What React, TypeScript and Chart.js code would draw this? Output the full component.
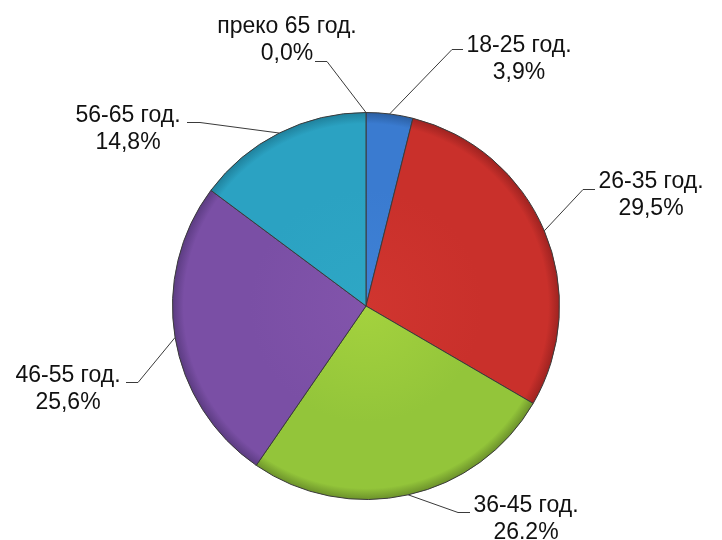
import React, { useEffect, useRef } from "react";
import { Chart, registerables } from "chart.js";

Chart.register(...registerables);

// ---- data ----
const categories = ["18-25 год.", "26-35 год.", "36-45 год.", "46-55 год.", "56-65 год.", "преко 65 год."];
const shares = [3.9, 29.5, 26.2, 25.6, 14.8, 0.0];
const shareLabels = ["3,9%", "29,5%", "26.2%", "25,6%", "14,8%", "0,0%"];

// ---- styles ----
const lightColors = ["#3f82d6", "#d0352f", "#a4d23e", "#8254ab", "#2ea7c5", "#f99c50"];
const baseColors = ["#3a7bd0", "#c9302b", "#93c53a", "#7a4fa5", "#2ba2c2", "#f79646"];
const darkColors = ["#2a5d9f", "#9c2220", "#6a8f2a", "#5a3b80", "#1f7f9a", "#b86d2f"];

// label layout: text centre x, first baseline y, leader start x (at text), elbow x, leader y
const LABEL_LAYOUT = [
  { tx: 519, by: 52, sx: 463, ex: 452, ly: 49 },
  { tx: 651, by: 188, sx: 595, ex: 583, ly: 189 },
  { tx: 526, by: 512, sx: 470, ex: 458, ly: 512 },
  { tx: 68, by: 382, sx: 126, ex: 138, ly: 382 },
  { tx: 128, by: 122, sx: 187, ex: 200, ly: 122 },
  { tx: 287, by: 33, sx: 315, ex: 327, ly: 61 },
];
const LINE_GAP = 27;
const FONT = '23px "Liberation Sans", Arial, sans-serif';

const labelPlugin = {
  id: "leaderLabels",
  afterDatasetsDraw(chart: any) {
    const ctx = chart.ctx;
    const meta = chart.getDatasetMeta(0);
    ctx.save();
    meta.data.forEach((arc: any, i: number) => {
      const p = arc.getProps(["x", "y", "startAngle", "endAngle", "outerRadius"], true);
      const mid = (p.startAngle + p.endAngle) / 2;
      const ax = p.x + Math.cos(mid) * p.outerRadius;
      const ay = p.y + Math.sin(mid) * p.outerRadius;
      const L = LABEL_LAYOUT[i];
      ctx.strokeStyle = "#3a3a3a";
      ctx.lineWidth = 1;
      ctx.beginPath();
      ctx.moveTo(L.sx, L.ly + 0.5);
      ctx.lineTo(L.ex, L.ly + 0.5);
      ctx.lineTo(ax, ay);
      ctx.stroke();
      ctx.fillStyle = "#111111";
      ctx.font = FONT;
      ctx.textAlign = "center";
      ctx.textBaseline = "alphabetic";
      ctx.fillText(categories[i], L.tx, L.by);
      ctx.fillText(shareLabels[i], L.tx, L.by + LINE_GAP);
    });
    ctx.restore();
  },
};

const bgPlugin = {
  id: "whiteBg",
  beforeDraw(chart: any) {
    const ctx = chart.ctx;
    ctx.save();
    ctx.fillStyle = "#ffffff";
    ctx.fillRect(0, 0, chart.width, chart.height);
    ctx.restore();
  },
};

export default function App() {
  const ref = useRef<HTMLCanvasElement | null>(null);
  useEffect(() => {
    if (!ref.current) return;
    const chart = new Chart(ref.current, {
      type: "pie",
      data: {
        labels: categories,
        datasets: [
          {
            data: shares,
            backgroundColor: (c: any) => {
              const i = c.dataIndex;
              const area = c.chart.chartArea;
              if (!area) return baseColors[i];
              const cx = (area.left + area.right) / 2;
              const cy = (area.top + area.bottom) / 2;
              const r = Math.min(area.right - area.left, area.bottom - area.top) / 2;
              const g = c.chart.ctx.createRadialGradient(cx, cy, 0, cx, cy, r);
              g.addColorStop(0, lightColors[i]);
              g.addColorStop(0.6, baseColors[i]);
              g.addColorStop(0.94, baseColors[i]);
              g.addColorStop(1, darkColors[i]);
              return g;
            },
            borderColor: "#3b3b3b",
            borderWidth: 1,
          },
        ],
      },
      options: {
        responsive: false,
        animation: false,
        layout: { padding: { left: 172, right: 162, top: 112, bottom: 40 } },
        plugins: {
          legend: { display: false },
          tooltip: { enabled: false },
        },
      },
      plugins: [bgPlugin, labelPlugin],
    });
    return () => chart.destroy();
  }, []);
  return (
    <div style={{ position: "absolute", left: 0, top: 0, width: 722, height: 540 }}>
      <canvas ref={ref} width={722} height={540} style={{ display: "block" }} />
    </div>
  );
}
